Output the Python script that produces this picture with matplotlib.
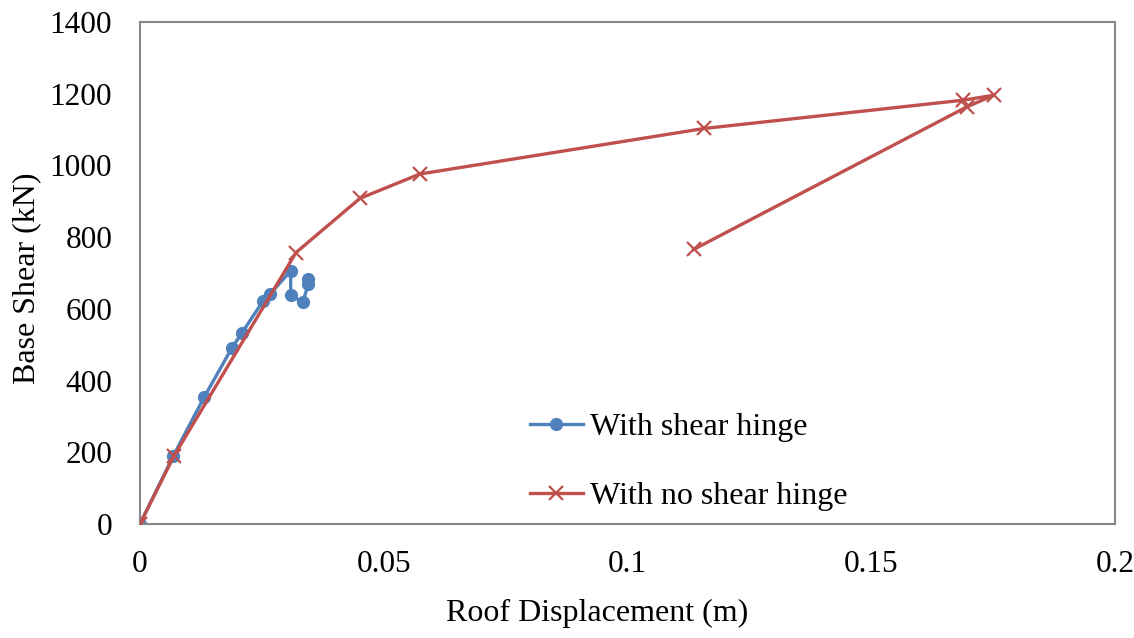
import matplotlib
matplotlib.use("Agg")
import matplotlib.pyplot as plt

# Data
shear_x = [0, 0.00683, 0.01313, 0.01881, 0.02086, 0.02529, 0.02667, 0.03091, 0.03091, 0.03337, 0.03452, 0.03452]
shear_y = [0, 190, 353, 490, 532, 623, 641, 706, 639, 618, 668, 682]

noshear_x = [0, 0.00697, 0.0320, 0.0451, 0.0574, 0.1157, 0.1689, 0.1752, 0.1697, 0.1136]
noshear_y = [0, 190, 757, 908, 976, 1103, 1182, 1196, 1164, 766]

x_ticks = [0, 0.05, 0.1, 0.15, 0.2]
x_tick_labels = ["0", "0.05", "0.1", "0.15", "0.2"]
y_ticks = [0, 200, 400, 600, 800, 1000, 1200, 1400]

plt.rcParams['font.family'] = ['Liberation Serif', 'DejaVu Serif']

fig = plt.figure(figsize=(11.34, 6.38), dpi=100)
ax = fig.add_axes([140/1134, 1-524/638, (1115-140)/1134, (524-22)/638])

blue = '#4F81BD'
red = '#C0504D'
ax.plot(shear_x, shear_y, color=blue, lw=2.4, marker='o', markersize=8.5,
        label='With shear hinge', zorder=2)
ax.plot(noshear_x, noshear_y, color=red, lw=2.4, marker='x', markersize=10,
        markeredgewidth=1.6, label='With no shear hinge', zorder=3)

ax.set_xlim(0, 0.2)
ax.set_ylim(0, 1400)
ax.set_xticks(x_ticks)
ax.set_xticklabels(x_tick_labels)
ax.set_yticks(y_ticks)
ax.tick_params(length=0, labelsize=22.5)
ax.tick_params(axis='x', pad=19)
ax.tick_params(axis='y', pad=20)
for s in ax.spines.values():
    s.set_color('#888888')
    s.set_linewidth(1.5)

ax.set_xlabel('Roof Displacement (m)', fontsize=23, labelpad=14)
ax.set_ylabel('Base Shear (kN)', fontsize=23, labelpad=6)
ax.xaxis.label.set_x(0.469)
ax.yaxis.label.set_y(0.49)

leg = ax.legend(loc='upper left', bbox_to_anchor=(501/1134, 1-384/638),
                bbox_transform=fig.transFigure, frameon=False, fontsize=23,
                labelspacing=1.25, handlelength=1.66, handletextpad=0.22)

fig.savefig('out.png', dpi=100)
